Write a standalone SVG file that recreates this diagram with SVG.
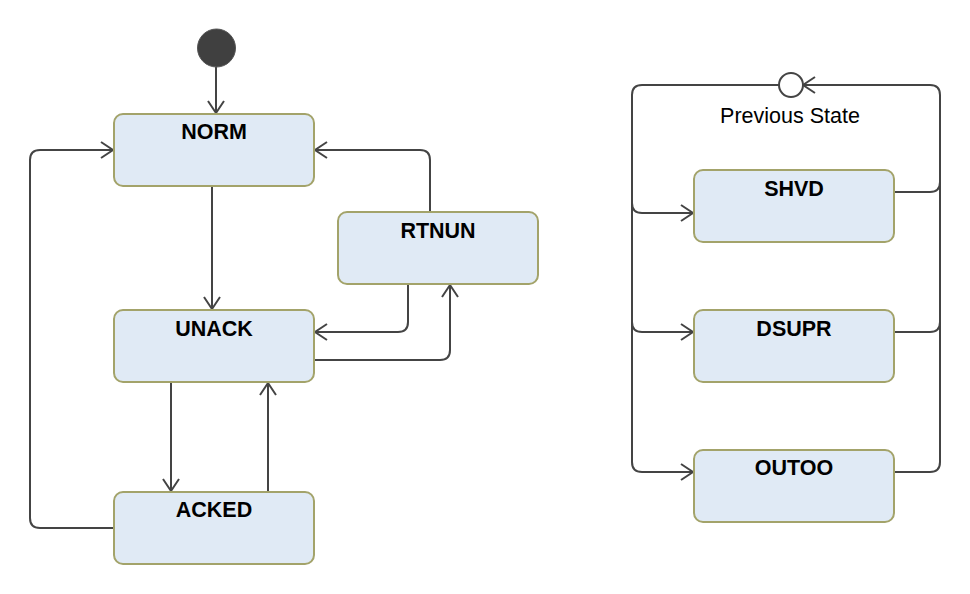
<svg xmlns="http://www.w3.org/2000/svg" width="970" height="594" viewBox="0 0 970 594">
<style>
.st{fill:#e0eaf5;stroke:#a3a36a;stroke-width:2}
.lb{font-family:"Liberation Sans",Arial,sans-serif;font-weight:bold;font-size:21.5px;fill:#000;text-anchor:middle}
.pl{font-family:"Liberation Sans",Arial,sans-serif;font-size:21.5px;fill:#000;text-anchor:middle}
.c{fill:none;stroke:#444;stroke-width:2}
</style>
<defs>
<marker id="a" markerUnits="userSpaceOnUse" viewBox="-14 -9 16 18" refX="0" refY="0" markerWidth="16" markerHeight="18" orient="auto">
<path d="M-12,-8 L0,0 L-12,8" fill="none" stroke="#444" stroke-width="2"/>
</marker>
</defs>
<rect width="970" height="594" fill="#fff"/>
<g id="connectors">
<path class="c" d="M216,67 L216,113" marker-end="url(#a)"/>
<path class="c" d="M212,186 L212,309" marker-end="url(#a)"/>
<path class="c" d="M171,382 L171,491" marker-end="url(#a)"/>
<path class="c" d="M268,492 L268,383" marker-end="url(#a)"/>
<path class="c" d="M114,528 L40,528 Q30,528 30,518 L30,160 Q30,150 40,150 L113,150" marker-end="url(#a)"/>
<path class="c" d="M430,212 L430,160 Q430,150 420,150 L315,150" marker-end="url(#a)"/>
<path class="c" d="M408,284 L408,322 Q408,332 398,332 L315,332" marker-end="url(#a)"/>
<path class="c" d="M314,360 L440,360 Q450,360 450,350 L450,285" marker-end="url(#a)"/>
<path class="c" d="M779,85 L642,85 Q632,85 632,95 L632,462 Q632,472 642,472 L693,472" marker-end="url(#a)"/>
<path class="c" d="M632,203 Q632,213 642,213 L693,213" marker-end="url(#a)"/>
<path class="c" d="M632,322 Q632,332 642,332 L693,332" marker-end="url(#a)"/>
<path class="c" d="M894,472 L930,472 Q940,472 940,462 L940,95 Q940,85 930,85 L803,85" marker-end="url(#a)"/>
<path class="c" d="M894,192 L930,192 Q940,192 940,182"/>
<path class="c" d="M894,332 L930,332 Q940,332 940,322"/>
</g>
<g id="initial"><circle cx="216.5" cy="48" r="19" fill="#404040" stroke="#555" stroke-width="1"/></g>
<g id="previous-state"><circle cx="791" cy="85" r="12" fill="#fff" stroke="#444" stroke-width="2"/><text class="pl" x="790" y="123">Previous State</text></g>
<g id="NORM"><rect class="st" x="114" y="114" width="200" height="72" rx="9"/><text class="lb" x="214" y="139">NORM</text></g>
<g id="RTNUN"><rect class="st" x="338" y="212" width="200" height="72" rx="9"/><text class="lb" x="438" y="238">RTNUN</text></g>
<g id="UNACK"><rect class="st" x="114" y="310" width="200" height="72" rx="9"/><text class="lb" x="214" y="336">UNACK</text></g>
<g id="ACKED"><rect class="st" x="114" y="492" width="200" height="72" rx="9"/><text class="lb" x="214" y="517">ACKED</text></g>
<g id="SHVD"><rect class="st" x="694" y="170" width="200" height="72" rx="9"/><text class="lb" x="794" y="196">SHVD</text></g>
<g id="DSUPR"><rect class="st" x="694" y="310" width="200" height="72" rx="9"/><text class="lb" x="794" y="336">DSUPR</text></g>
<g id="OUTOO"><rect class="st" x="694" y="450" width="200" height="72" rx="9"/><text class="lb" x="794" y="475">OUTOO</text></g>
</svg>
